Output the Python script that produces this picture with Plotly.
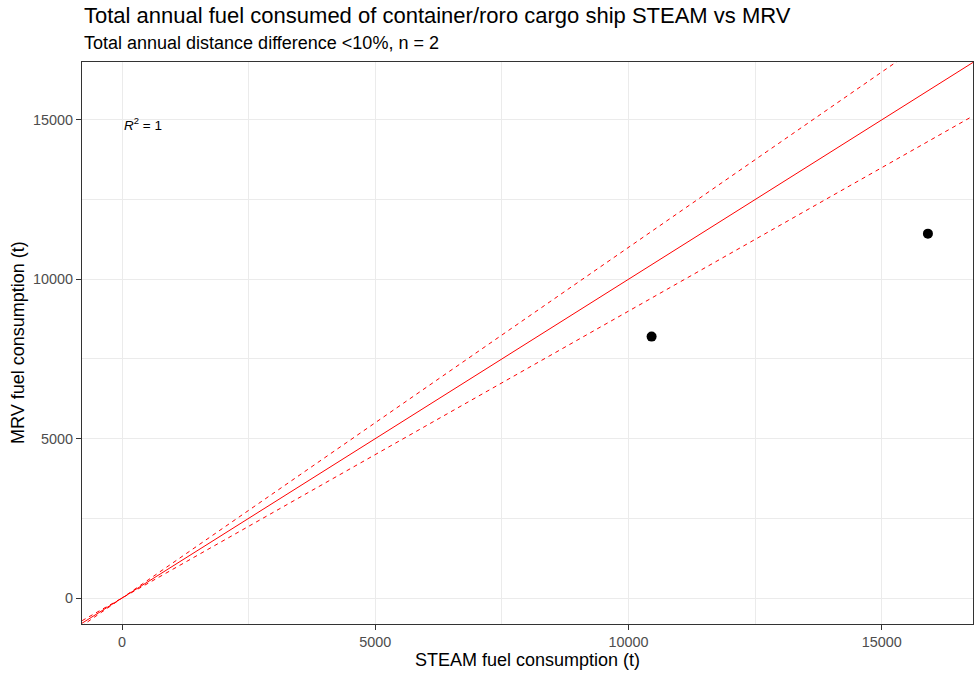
import plotly.graph_objects as go

# Data
steam_fuel = [10455, 15910]
mrv_fuel = [8200, 11430]

line_x = [-1200, 17500]
ratio_solid = 1.0
ratio_upper = 1.1
ratio_lower = 0.9

x_ticks = [0, 5000, 10000, 15000]
y_ticks = [0, 5000, 10000, 15000]

GREY20 = '#333333'
GREY30 = '#4D4D4D'
GRID = '#EBEBEB'
FONT = 'Liberation Sans, Arial, sans-serif'

W, H = 975, 677
L, R, T, B = 82, 2, 62, 53
PH = H - T - B
PW = W - L - R


def py(y_px):
    # page pixel row -> paper y
    return (H - B - y_px) / PH


def px(x_px):
    return (x_px - L) / PW


fig = go.Figure()

for ratio, dash in [(ratio_solid, 'solid'), (ratio_upper, '4px,4px'), (ratio_lower, '4px,4px')]:
    fig.add_trace(go.Scatter(
        x=line_x,
        y=[v * ratio for v in line_x],
        mode='lines',
        line=dict(color='red', width=1, dash=dash),
        hoverinfo='skip',
        showlegend=False
    ))

fig.add_trace(go.Scatter(
    x=steam_fuel,
    y=mrv_fuel,
    mode='markers',
    marker=dict(color='black', size=10),
    showlegend=False
))

annotations = [
    dict(x=0, y=14880, xref='x', yref='y',
         text='<i>R</i><sup>2</sup> = 1',
         showarrow=False, xanchor='left', yanchor='middle',
         font=dict(family=FONT, size=13.5, color='black')),
    dict(x=px(82), y=py(15), xref='paper', yref='paper',
         text='Total annual fuel consumed of container/roro cargo ship STEAM vs MRV',
         showarrow=False, xanchor='left', yanchor='middle',
         font=dict(family=FONT, size=22, color='black')),
    dict(x=px(82), y=py(43), xref='paper', yref='paper',
         text='Total annual distance difference &lt;10%, n = 2',
         showarrow=False, xanchor='left', yanchor='middle',
         font=dict(family=FONT, size=18, color='black')),
    dict(x=0.5, y=py(660), xref='paper', yref='paper',
         text='STEAM fuel consumption (t)',
         showarrow=False, xanchor='center', yanchor='middle',
         font=dict(family=FONT, size=18, color='black')),
    dict(x=px(18), y=0.5, xref='paper', yref='paper',
         text='MRV fuel consumption (t)', textangle=-90,
         showarrow=False, xanchor='center', yanchor='middle',
         font=dict(family=FONT, size=18, color='black')),
]

axis_common = dict(
    showline=True, linecolor=GREY20, linewidth=1, mirror=True,
    ticks='outside', ticklen=5, tickcolor=GREY20,
    tickfont=dict(family=FONT, size=14.4, color=GREY30),
    showgrid=True, gridcolor=GRID, gridwidth=1,
    zeroline=False, automargin=False,
    minor=dict(dtick=2500, showgrid=True, gridcolor=GRID, gridwidth=0.5, ticks=''),
)

fig.update_layout(
    width=W, height=H,
    margin=dict(l=L, r=R, t=T, b=B),
    plot_bgcolor='white', paper_bgcolor='white',
    font=dict(family=FONT, color='black'),
    xaxis=dict(
        **axis_common,
        range=[-790, 16800],
        tickvals=x_ticks,
        ticktext=[str(v) for v in x_ticks],
    ),
    yaxis=dict(
        **axis_common,
        range=[-814, 16813],
        tickvals=y_ticks,
        ticktext=[str(v) for v in y_ticks],
    ),
    annotations=annotations,
)

# drop the default 8px page margin so the figure fills the window
fig.write_html(
    "out.html",
    config={'displayModeBar': False},
    post_script="document.body.style.margin='0';",
)
